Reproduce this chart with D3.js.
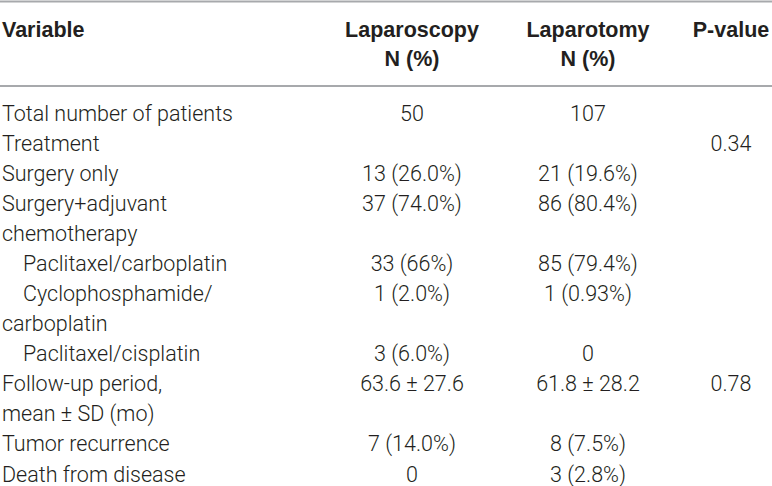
<!DOCTYPE html>
<html lang="en">
<head>
    <meta charset="UTF-8">
    <title>Laparoscopy vs laparotomy</title>
    <script src="https://d3js.org/d3.v7.min.js"></script>
    <style>
        body { margin: 0; background: #fff; }
        text { font-family: Roboto, "Liberation Sans", Arial, sans-serif; }
        text.head { font-family: "Liberation Sans", Arial, sans-serif; }
    </style>
</head>
<body>
<div style="width: 772px;height: 486px" id="figure"></div>
<script>

    // table content
    let columns = ["Variable", "Laparoscopy", "Laparotomy", "P-value"];
    let subHeader = ["", "N (%)", "N (%)", ""];
    let variables = [
        "Total number of patients",
        "Treatment",
        "Surgery only",
        "Surgery+adjuvant\nchemotherapy",
        "Paclitaxel/carboplatin",
        "Cyclophosphamide/\ncarboplatin",
        "Paclitaxel/cisplatin",
        "Follow-up period,\nmean \u00b1 SD (mo)",
        "Tumor recurrence",
        "Death from disease"
    ];
    let indented = [false, false, false, false, true, true, true, false, false, false];
    let laparoscopy = ["50", "", "13 (26.0%)", "37 (74.0%)", "33 (66%)", "1 (2.0%)", "3 (6.0%)", "63.6 \u00b1 27.6", "7 (14.0%)", "0"];
    let laparotomy = ["107", "", "21 (19.6%)", "86 (80.4%)", "85 (79.4%)", "1 (0.93%)", "0", "61.8 \u00b1 28.2", "8 (7.5%)", "3 (2.8%)"];
    let pValues = ["", "0.34", "", "", "", "", "", "0.78", "", ""];

    let figure = document.getElementById("figure");
    let w = figure.clientWidth;
    let h = figure.clientHeight;
    let textColor = "#231f20";
    let ruleColor = "#a7a9ac";
    let bodySize = 21.5;
    let headSize = 21.5;

    let svg = d3.select(figure).append("svg")
        .attr("width", w)
        .attr("height", h);

    // column centres (first column is left aligned)
    let colX = d3.scaleOrdinal()
        .domain(columns)
        .range([2, 412, 588, 731]);

    // every printed line of the body gets one slot
    let lines = [];
    variables.forEach(function (v, i) {
        v.split("\n").forEach(function (part, k) {
            lines.push({
                label: part,
                indent: indented[i] && k === 0,
                values: k === 0 ? [laparoscopy[i], laparotomy[i], pValues[i]] : ["", "", ""]
            });
        });
    });

    let yScale = d3.scaleLinear()
        .domain([0, lines.length - 1])
        .range([113.5, 474]);

    // rules
    svg.append("line")
        .attr("x1", 0).attr("x2", w)
        .attr("y1", 1.5).attr("y2", 1.5)
        .style("stroke", ruleColor).style("stroke-width", 2);
    svg.append("line")
        .attr("x1", 0).attr("x2", w)
        .attr("y1", 86).attr("y2", 86)
        .style("stroke", ruleColor).style("stroke-width", 2);

    // header
    let head = svg.append("g").attr("id", "header");
    columns.forEach(function (c, i) {
        head.append("text")
            .attr("class", "head")
            .attr("x", colX(c))
            .attr("y", 29)
            .attr("dy", "0.35em")
            .attr("text-anchor", i === 0 ? "start" : "middle")
            .style("font-size", headSize + "px")
            .style("font-weight", "bold")
            .style("fill", textColor)
            .text(c);
        if (subHeader[i] !== "") {
            head.append("text")
                .attr("class", "head")
                .attr("x", colX(c))
                .attr("y", 58)
                .attr("dy", "0.35em")
                .attr("text-anchor", "middle")
                .style("font-size", headSize + "px")
                .style("font-weight", "bold")
                .style("fill", textColor)
                .text(subHeader[i]);
        }
    });

    // body
    let body = svg.append("g").attr("id", "body");
    let rows = body.selectAll("g.row")
        .data(lines)
        .join("g")
        .attr("class", "row")
        .attr("transform", function (d, i) { return "translate(0," + yScale(i) + ")"; });

    rows.append("text")
        .attr("x", function (d) { return colX(columns[0]) + (d.indent ? 21 : 0); })
        .attr("dy", "0.35em")
        .style("font-size", bodySize + "px")
        .style("font-weight", 300)
        .style("fill", textColor)
        .text(function (d) { return d.label; });

    for (let j = 0; j < 3; j++) {
        rows.append("text")
            .attr("x", colX(columns[j + 1]))
            .attr("dy", "0.35em")
            .attr("text-anchor", "middle")
            .style("font-size", bodySize + "px")
            .style("font-weight", 300)
            .style("fill", textColor)
            .text(function (d) { return d.values[j]; });
    }
</script>
</body>
</html>
